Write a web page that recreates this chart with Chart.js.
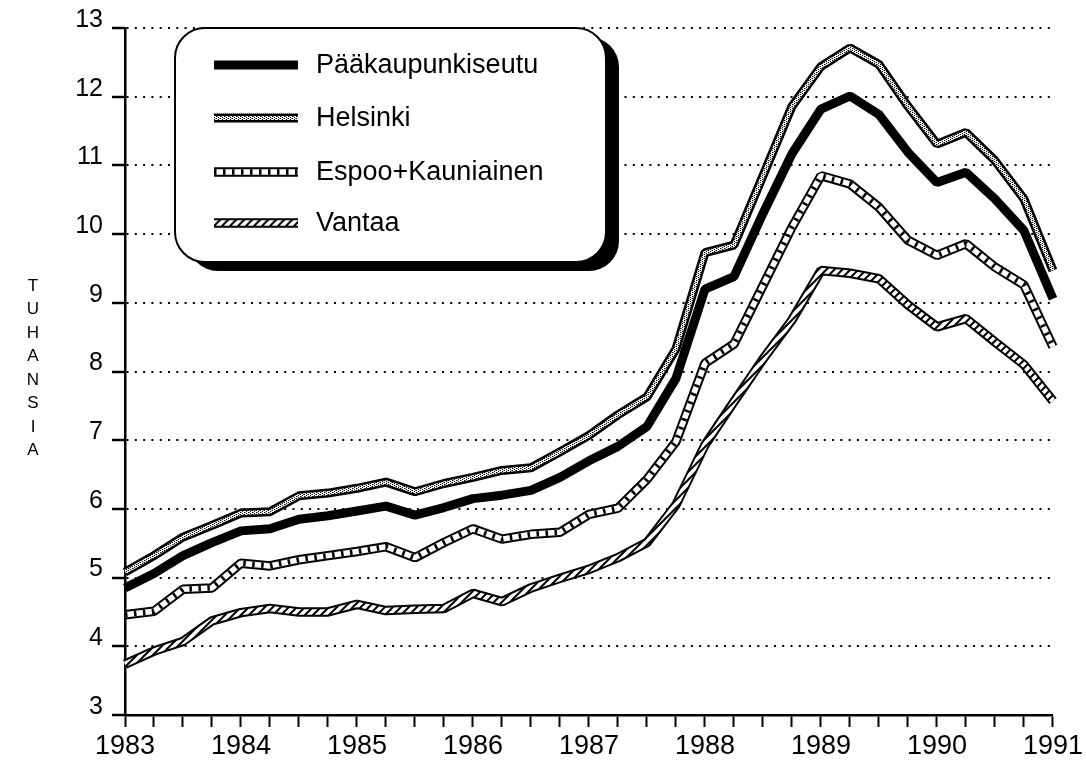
<!DOCTYPE html>
<html>
<head>
<meta charset="utf-8">
<script src="https://cdn.jsdelivr.net/npm/chart.js@4.4.1/dist/chart.umd.min.js"></script>
<style>
  body { margin: 0; background: #fff; }
  canvas { display: block; }
</style>
</head>
<body>
<canvas id="myChart" width="1086" height="764"></canvas>
<script>
// vuodet x-akselilla, data neljännesvuosittain
let vuodet = [1983, 1984, 1985, 1986, 1987, 1988, 1989, 1990, 1991];
let sarjat = ['Pääkaupunkiseutu', 'Helsinki', 'Espoo+Kauniainen', 'Vantaa'];
let pystyOtsikko = 'TUHANSIA';

let paakaupunkiseutu = [4.85, 5.06, 5.32, 5.51, 5.68, 5.71, 5.85, 5.90, 5.97, 6.04, 5.91, 6.02, 6.15, 6.20, 6.27, 6.46,
    6.70, 6.91, 7.20, 7.90, 9.20, 9.38, 10.30, 11.17, 11.82, 12.01, 11.74, 11.19, 10.75, 10.90, 10.51, 10.05, 9.06];
let helsinki = [5.08, 5.32, 5.59, 5.76, 5.94, 5.96, 6.19, 6.23, 6.30, 6.39, 6.25, 6.37, 6.46, 6.56, 6.60, 6.83,
    7.07, 7.37, 7.63, 8.33, 9.73, 9.84, 10.85, 11.86, 12.44, 12.71, 12.47, 11.86, 11.31, 11.48, 11.07, 10.51, 9.47];
let espoo = [4.46, 4.51, 4.83, 4.85, 5.21, 5.17, 5.26, 5.32, 5.38, 5.45, 5.29, 5.51, 5.71, 5.56, 5.63, 5.66,
    5.92, 6.01, 6.43, 6.98, 8.12, 8.40, 9.25, 10.10, 10.85, 10.73, 10.39, 9.91, 9.69, 9.86, 9.52, 9.26, 8.36];
let vantaa = [3.74, 3.93, 4.07, 4.37, 4.49, 4.55, 4.50, 4.50, 4.61, 4.52, 4.54, 4.55, 4.77, 4.65, 4.85, 4.99,
    5.12, 5.29, 5.51, 6.06, 6.93, 7.56, 8.18, 8.75, 9.47, 9.43, 9.35, 8.97, 8.65, 8.77, 8.43, 8.10, 7.57];

let fontti = '"Liberation Sans", Arial, Helvetica, sans-serif';

// neljännesvuosien nimiöt: vuosi ja kolme tyhjää
let nimiot = [];
vuodet.forEach((v, i) => {
    nimiot.push(String(v));
    if (i < vuodet.length - 1) nimiot.push('', '', '');
});

function teeKuvio(koko, piirra) {
    let c = document.createElement('canvas');
    c.width = koko;
    c.height = koko;
    let g = c.getContext('2d');
    g.fillStyle = '#fff';
    g.fillRect(0, 0, koko, koko);
    piirra(g);
    return g.createPattern(c, 'repeat');
}

// Helsinki: vaalea pisterakenne
let pisteet = teeKuvio(4, g => {
    g.fillStyle = '#000';
    g.fillRect(0, 0, 1, 1);
    g.fillRect(2, 1, 1, 1);
    g.fillRect(0, 2, 1, 1);
    g.fillRect(2, 3, 1, 1);
    g.fillStyle = '#888';
    g.fillRect(1, 0, 1, 1);
    g.fillRect(3, 2, 1, 1);
});
// Vantaa: vinoviivoitus
let vinot = teeKuvio(8, g => {
    g.strokeStyle = '#000';
    g.lineWidth = 2;
    g.beginPath();
    g.moveTo(-2, 10); g.lineTo(10, -2);
    g.moveTo(-2, 2); g.lineTo(2, -2);
    g.moveTo(6, 10); g.lineTo(10, 6);
    g.stroke();
});

// viivakerrokset jokaiselle sarjalle (alin ensin)
let tyylit = [
    [{ vari: '#000', leveys: 9 }],
    [{ vari: '#000', leveys: 9 }, { vari: pisteet, leveys: 4 }],
    [{ vari: '#000', leveys: 9.5 }, { vari: '#fff', leveys: 5.5 }, { vari: '#000', leveys: 5.5, katko: [2.5, 6.5] }],
    [{ vari: '#000', leveys: 9.5 }, { vari: vinot, leveys: 5.5 }]
];
let arvot = [paakaupunkiseutu, helsinki, espoo, vantaa];

let datasets = [];
arvot.forEach((data, k) => {
    tyylit[k].forEach((t, j) => {
        datasets.push({
            label: sarjat[k],
            data: data,
            borderColor: t.vari,
            borderWidth: t.leveys,
            borderDash: t.katko || [],
            borderJoinStyle: 'bevel',
            pointRadius: 0,
            tension: 0,
            fill: false,
            order: (arvot.length - 1 - k) * 10 + (9 - j)
        });
    });
});

const selite = {
    id: 'selite',
    afterDraw(chart) {
        let ctx = chart.ctx;
        let x = 175, y = 28, w = 431, h = 234, r = 30;
        ctx.save();
        ctx.fillStyle = '#000';
        ctx.beginPath();
        ctx.roundRect(x + 13, y + 9, w, h, r);
        ctx.fill();
        ctx.fillStyle = '#fff';
        ctx.strokeStyle = '#000';
        ctx.lineWidth = 2;
        ctx.beginPath();
        ctx.roundRect(x, y, w, h, r);
        ctx.fill();
        ctx.stroke();

        let rivit = [65, 118, 172, 223];
        sarjat.forEach((nimi, k) => {
            let ry = rivit[k];
            tyylit[k].forEach(t => {
                ctx.beginPath();
                ctx.strokeStyle = t.vari;
                ctx.lineWidth = t.leveys;
                ctx.setLineDash(t.katko || []);
                ctx.moveTo(214, ry);
                ctx.lineTo(298, ry);
                ctx.stroke();
            });
            ctx.setLineDash([]);
            ctx.fillStyle = '#000';
            ctx.font = '27px ' + fontti;
            ctx.textBaseline = 'middle';
            ctx.textAlign = 'left';
            ctx.fillText(nimi, 316, ry + 1);
        });
        ctx.restore();
    }
};

const pystyteksti = {
    id: 'pystyteksti',
    afterDraw(chart) {
        let ctx = chart.ctx;
        ctx.save();
        ctx.fillStyle = '#000';
        ctx.font = '17px ' + fontti;
        ctx.textAlign = 'center';
        ctx.textBaseline = 'middle';
        pystyOtsikko.split('').forEach((kirjain, i) => {
            ctx.fillText(kirjain, 33, 286 + i * 23.5);
        });
        ctx.restore();
    }
};

var ctx = document.getElementById('myChart').getContext('2d');
var chart = new Chart(ctx, {
    type: 'line',
    data: {
        labels: nimiot,
        datasets: datasets
    },
    plugins: [selite, pystyteksti],
    options: {
        responsive: false,
        animation: false,
        layout: { padding: { top: 28, right: 33, left: 0, bottom: 0 } },
        plugins: {
            legend: { display: false },
            tooltip: { enabled: false }
        },
        scales: {
            x: {
                offset: false,
                grid: { drawOnChartArea: false, drawTicks: true, tickLength: 12, tickWidth: 2, tickColor: '#000' },
                border: { color: '#000', width: 2.5 },
                ticks: {
                    autoSkip: false, maxRotation: 0, minRotation: 0, padding: 3,
                    color: '#000', font: { family: fontti, size: 27 }
                },
                afterFit: s => { s.height = 49; }
            },
            y: {
                min: 3,
                max: 13,
                grid: { color: '#000', lineWidth: 2, tickLength: 13, tickWidth: 2.5, tickColor: '#000' },
                border: { color: '#000', width: 2.5, dash: [2, 6.3] },
                ticks: {
                    stepSize: 1, padding: 9, labelOffset: -8,
                    color: '#000', font: { family: fontti, size: 25 }
                },
                afterFit: s => { s.width = 125; }
            }
        }
    }
});
</script>
</body>
</html>
